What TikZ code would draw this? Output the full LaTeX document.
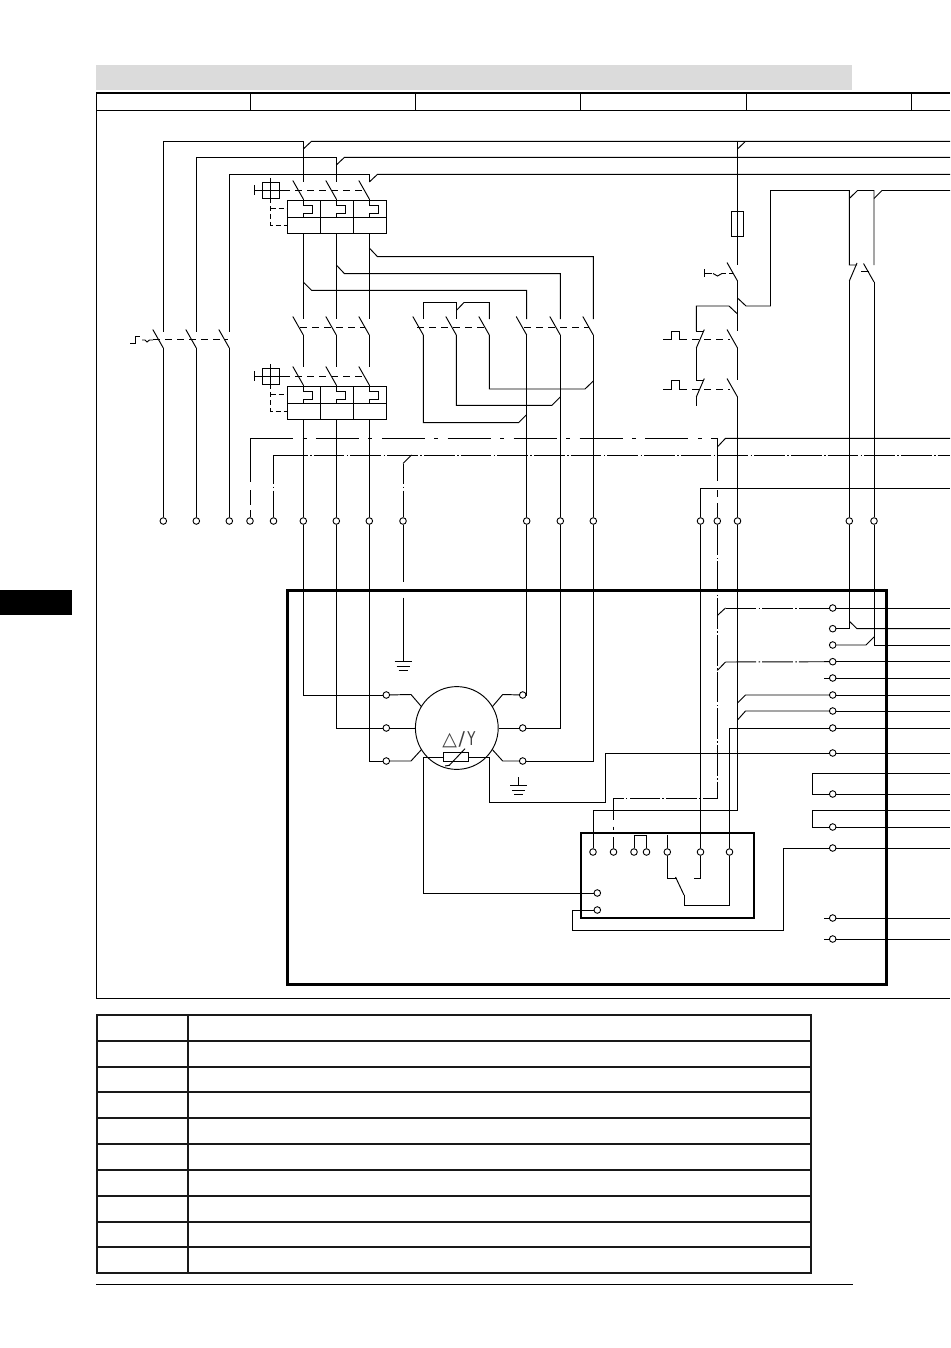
\documentclass[tikz,border=0pt]{standalone}
\usepackage{fontspec}
\usepackage{graphicx}
\newfontfamily\symfont{DejaVu Sans}
\tikzset{
  wire/.style={line width=.95pt},
  frameline/.style={line width=1pt},
  mech/.style={line width=.95pt,dash pattern=on 7pt off 5pt},
  cdd/.style={line width=.95pt,dash pattern=on 43pt off 9.5pt on 4pt off 9.4pt},
  cdf/.style={line width=.95pt,dash pattern=on 30.7pt off 2.5pt on 1.5pt off 2pt},
  term/.style={circle,draw,fill=white,line width=.9pt,inner sep=0pt,minimum size=6.6pt},
  heavy/.style={line width=3pt},
  tablerule/.style={line width=2pt,draw=black!90},
}
% blade: lower end at (x,y), upper end up-left of it
\newcommand\blade[2]{\draw[wire] (#1,#2) ++(-10.5,-18.5) -- (#1,#2);}
% mirrored blade: lower end at (x,y), upper end up-right of it
\newcommand\rblade[2]{\draw[wire] (#1,#2) ++(8,-18.5) -- (#1,#2);}
% handle: square with cross, its line running to x=283
\newcommand\handle[1]{%
  \draw[wire] (262,#1-8) rectangle (279,#1+8);
  \draw[wire] (270.5,#1-12) -- (270.5,#1+12);
  \draw[wire] (254.5,#1) -- (279,#1);
  \draw[wire] (254.5,#1-5) -- (254.5,#1+5);
  \draw[mech] (279,#1) -- (283,#1);
  \draw[mech,dash pattern=on 5pt off 3pt] (270.5,#1+8) -- (270.5,#1+35) -- (287.3,#1+35);
  \draw[mech,dash pattern=on 5pt off 3pt] (270.5,#1+18) -- (287.3,#1+18);
}
% breaker block with three thermal elements
\newcommand\breaker[1]{%
  \draw[wire] (287.3,#1) rectangle (386.3,#1+33);
  \draw[wire] (287.3,#1+17) -- (386.3,#1+17);
  \foreach \bx in {320.3,353.3} \draw[wire] (\bx,#1) -- (\bx,#1+33);
  \foreach \bx in {303.3,336.3,369.3}
    \draw[wire] (\bx,#1-1) -- (\bx,#1+5) -- ++(9,0) -- ++(0,8) -- ++(-9,0) -- (\bx,#1+17);
}
\newcommand\earth[2]{%
  \draw[wire] (#1-8.5,#2) -- (#1+8.5,#2) (#1-6.5,#2+5) -- (#1+6.5,#2+5) (#1-4.5,#2+9.5) -- (#1+4.5,#2+9.5);
}
\begin{document}
\begin{tikzpicture}[x=1pt,y=-1pt]
\useasboundingbox (0,0) rectangle (950,1348);
\fill[white] (0,0) rectangle (950,1348);

% page furniture
\fill[black!14] (96,65) rectangle (852,90);
\fill[black] (0,590) rectangle (72,615);
\draw[line width=1.8pt] (96,93) -- (950,93);
\draw[frameline] (96,110.3) -- (950,110.3);
\draw[frameline] (96.5,92) -- (96.5,998) -- (950,998);
\foreach \hx in {250.3,415.3,580.5,746.3,911.5} \draw[frameline] (\hx,93) -- (\hx,110.3);

% table
\foreach \ry in {1015,1041,1067,1092,1118,1144,1170,1196,1222,1247,1273}
  \draw[tablerule] (96,\ry) -- (812,\ry);
\foreach \cx in {97,188.3,811} \draw[tablerule] (\cx,1014) -- (\cx,1274);
\draw[frameline] (96,1284.3) -- (853,1284.3);

% enclosure and relay box
\draw[heavy] (287.3,590.7) rectangle (886.7,984);
\draw[line width=2pt] (580.7,832.7) rectangle (754,917.7);

% terminals: row at y=521
\foreach \n/\x in {ta/163.3,tb/196.3,tc/229.3,td/250,te/273.5,tf/303.3,tg/336.3,th/369.3,ti/403,
                   tj/526.7,tk/560.3,tl/593.3,tm/700.5,tn/717.3,to/737.5,tp/849.3,tq/874}
  \node[term] (\n) at (\x,521) {};
% terminals: right-hand column
\foreach \n/\y in {r1/608,r2/628.7,r3/645,r4/661.7,r5/678,r6/695,r7/711,r8/728,r9/753,r10/794,r11/827,r12/848,r13/918,r14/939}
  \node[term] (\n) at (832.7,\y) {};
% terminals: motor
\foreach \n/\y in {la/695,lb/728,lc/761} \node[term] (\n) at (386.3,\y) {};
\foreach \n/\y in {ma/695,mb/728,mc/761} \node[term] (\n) at (522.7,\y) {};
% terminals: relay box
\foreach \n/\x in {s1/593,s2/613.5,s3/634,s4/646.5,s5/667.3,s6/700.5,s7/729.5}
  \node[term] (\n) at (\x,852) {};
\node[term] (s8) at (597.3,893) {};
\node[term] (s9) at (597.3,910) {};

% motor and winding protection
\node[circle,draw,wire,inner sep=0pt,minimum size=82.8pt] (motor) at (456.8,728) {};
\node[inner sep=0pt,anchor=base,text=black!75] (msym) at (459,745)
  {\symfont\fontsize{19}{19}\selectfont △\kern1.5pt/\kern2.5pt\scalebox{0.7}[1]{Y}};
\node[draw,wire,inner sep=0pt,minimum width=24.7pt,minimum height=8.6pt] (ptc) at (456.3,757) {};
\draw[wire] (445,766) -- (449.3,765.3) -- (465,748.7);

% fuse
\node[draw,wire,inner sep=0pt,minimum width=12.3pt,minimum height=25.6pt] (fuse) at (737.5,224) {};

%% supply bus
\draw[wire] (ta) -- (163.3,348);
\draw[wire] (tb) -- (196.3,348);
\draw[wire] (tc) -- (229.3,348);
\draw[wire] (163.3,331.5) -- (163.3,141.3) -- (303.3,141.3) -- (303.3,182);
\draw[wire] (196.3,331.5) -- (196.3,157.3) -- (336.3,157.3) -- (336.3,182);
\draw[wire] (229.3,331.5) -- (229.3,174.3) -- (369.3,174.3) -- (369.3,182);
\draw[wire] (303.3,149) -- (311.5,141.3) -- (950,141.3);
\draw[wire] (336.3,165) -- (344.5,157.3) -- (950,157.3);
\draw[wire] (369.3,182) -- (377.5,174.3) -- (950,174.3);
\foreach \sx in {163.3,196.3,229.3} \blade{\sx}{348}
\draw[mech] (153,339) -- (228,339);
\draw[wire] (130,343) -- (135.5,343) -- (135.5,336) -- (139.5,336);
\draw[wire] (142,340) -- (145,340) -- (147,342) -- (149.5,340) -- (153,340);

%% upper breaker
\foreach \sx in {303.3,336.3,369.3} \blade{\sx}{199}
\draw[mech] (283,190) -- (365,190);
\handle{190}
\breaker{200.3}
%% output of upper breaker
\draw[wire] (303.3,233.3) -- (303.3,319);
\draw[wire] (336.3,233.3) -- (336.3,319);
\draw[wire] (369.3,233.3) -- (369.3,319);
\draw[wire] (369.3,248) -- (377.5,256.7) -- (593.3,256.7) -- (593.3,319);
\draw[wire] (336.3,265) -- (344.5,273.7) -- (560.3,273.7) -- (560.3,319);
\draw[wire] (303.3,282) -- (311.5,290.3) -- (526.7,290.3) -- (526.7,319);

%% contactor row
\foreach \sx in {303.3,336.3,369.3,423.3,456.3,489.3,526.7,560.3,593.3} \blade{\sx}{335}
\draw[mech] (300,327) -- (365,327);
\draw[mech] (417,327) -- (484,327);
\draw[mech] (524,327) -- (589,327);
\draw[wire] (303.3,335) -- (303.3,367);
\draw[wire] (336.3,335) -- (336.3,367);
\draw[wire] (369.3,335) -- (369.3,367);

%% star/delta links
\draw[wire] (423.3,319) -- (423.3,302.5) -- (456.3,302.5) -- (456.3,319);
\draw[wire] (456.3,310.5) -- (464,302.5) -- (489.3,302.5) -- (489.3,319);
\draw[wire] (423.3,335) -- (423.3,422.7) -- (518.5,422.7) -- (526.7,414.5);
\draw[wire] (456.3,335) -- (456.3,405.3) -- (552,405.3) -- (560.3,397);
\draw[wire] (489.3,335) -- (489.3,389) -- (585,389) -- (593.3,381);
\draw[wire] (526.7,335) -- (tj);
\draw[wire] (560.3,335) -- (tk);
\draw[wire] (593.3,335) -- (tl);

%% lower breaker
\foreach \sx in {303.3,336.3,369.3} \blade{\sx}{385}
\draw[mech] (283,376) -- (365,376);
\handle{376}
\breaker{386.3}
\draw[wire] (303.3,419.3) -- (tf);
\draw[wire] (336.3,419.3) -- (tg);
\draw[wire] (369.3,419.3) -- (th);

%% motor feeds
\draw[wire] (tf) -- (303.3,695) -- (la);
\draw[wire] (tg) -- (336.3,728) -- (lb);
\draw[wire] (th) -- (369.3,761) -- (lc);
\draw[wire] (la) -- (411,694.5) -- (421.5,706.7);
\draw[wire] (lb) -- (motor);
\draw[wire] (lc) -- (411,761) -- (421.5,749.5);
\draw[wire] (tj) -- (526.7,695) -- (ma);
\draw[wire] (tk) -- (560.3,728) -- (mb);
\draw[wire] (tl) -- (593.3,761) -- (mc);
\draw[wire] (ma) -- (502.7,694.5) -- (492.3,706.7);
\draw[wire] (mb) -- (motor);
\draw[wire] (mc) -- (502.7,761) -- (492.3,749.5);

%% earth
\draw[wire] (ti) -- (403,582);
\draw[wire] (403,597.5) -- (403,661);
\earth{403}{661}
\draw[wire] (518.5,777) -- (518.5,785);
\earth{518.5}{785.3}

%% protective (chain-dotted) conductors
\draw[cdd] (250,438.3) -- (717.3,438.3);
\draw[wire] (250,438.3) -- (250,482) (250,490) -- (250,505) (250,510) -- (td);
\draw[wire] (717.3,447) -- (725.5,438.3) -- (950,438.3);
\draw[wire] (717.3,438.3) -- (717.3,481) (717.3,490) -- (717.3,497) (717.3,503) -- (tn);
\draw[wire] (273.5,455) -- (277,455);
\draw[cdf] (277,455) -- (950,455);
\draw[wire] (273.5,455) -- (273.5,484) (273.5,486.5) -- (273.5,488) (273.5,490.5) -- (te);
\draw[wire] (403,463.5) -- (411.5,455);
\draw[wire] (403,463.5) -- (403,484) (403,486.5) -- (403,488) (403,490.5) -- (ti);
\draw[cdf] (tn) -- (717.3,798) -- (613.5,798);
\draw[wire] (613.5,798) -- (613.5,820) (613.5,826.5) -- (613.5,830) (613.5,837) -- (s2);
\draw[wire] (717.3,615.5) -- (725.5,608);
\draw[wire] (717.3,670.5) -- (725.5,662);
\draw[cdf] (725.5,608) -- (r1);
\draw[cdf] (725.5,662) -- (r4);

%% control column
\draw[wire] (737.5,141.3) -- (737.5,265);
\draw[wire] (737.5,149) -- (745.5,141.3);
\blade{737.5}{281}
\draw[wire] (737.5,281) -- (737.5,331);
\draw[wire] (737.5,298) -- (746,306) -- (770.5,306) -- (770.5,190.5) -- (849.3,190.5) -- (849.3,265) -- (857,265);
\draw[wire] (849.3,198.5) -- (857.5,190.5) -- (874,190.5) -- (874,265);
\draw[wire] (874,198.5) -- (882,190.5) -- (950,190.5);
\draw[wire] (704,269) -- (704,277) (704,273) -- (712,273);
\draw[wire] (713,273.5) -- (717.5,276) -- (722,273.5);
\draw[mech,dash pattern=on 4pt off 3pt] (722,273) -- (733,273);
\blade{737.5}{348}
\blade{737.5}{397}
\draw[wire] (737.5,348) -- (737.5,380);
\draw[wire] (737.5,397) -- (to);
\draw[wire] (696.3,331) -- (696.3,306) -- (729,306) -- (737.5,314);
\draw[wire] (696.3,331) -- (704,331);
\rblade{696.3}{348}
\draw[wire] (696.3,348) -- (696.3,380) -- (704,380);
\rblade{696.3}{397}
\draw[wire] (696.3,397) -- (696.3,405.5);
\draw[mech] (692,339) -- (730,339);
\draw[mech] (692,389) -- (730,389);
\draw[wire] (663,339) -- (671,339) -- (671,331) -- (679,331) -- (679,339) -- (687,339);
\draw[wire] (663,389) -- (671,389) -- (671,380.5) -- (679,380.5) -- (679,389) -- (687,389);

%% auxiliary contacts at the right
\draw[wire] (857,263) -- (849.3,281);
\draw[wire] (849.3,281) -- (tp);
\blade{874}{282}
\draw[wire] (861,271.5) -- (869,271.5);
\draw[wire] (874,282) -- (tq);
\draw[wire] (tm) -- (700.5,488) -- (950,488);

%% lines through the enclosure
\draw[wire] (tp) -- (849.3,628.7) -- (r2);
\draw[wire] (849.8,621.7) -- (857,628.7) -- (950,628.7);
\draw[wire] (tq) -- (874,645) -- (950,645);
\draw[wire] (r3) -- (866,645) -- (874,637);
\draw[wire] (r5) -- (824,678);
\draw[wire] (r1) -- (950,608);
\draw[wire] (r4) -- (950,661.7);
\draw[wire] (r5) -- (950,678);
\draw[wire] (r6) -- (950,695);
\draw[wire] (r7) -- (950,711);
\draw[wire] (r8) -- (950,728);
\draw[wire] (r9) -- (950,753);
\draw[wire] (r10) -- (950,794);
\draw[wire] (r11) -- (950,827);
\draw[wire] (r12) -- (950,848);
\draw[wire] (r13) -- (950,918);
\draw[wire] (r14) -- (950,939);
\draw[wire] (r13) -- (824,918);
\draw[wire] (r14) -- (824,939);
\draw[wire] (r1) -- (824,608);
\draw[wire] (r4) -- (824,661.7);

\draw[wire] (to) -- (737.5,810) -- (593,810) -- (s1);
\draw[wire] (737.5,703) -- (745.5,695) -- (r6);
\draw[wire] (737.5,720) -- (745.5,711) -- (r7);
\draw[wire] (r8) -- (729.5,728) -- (s7);
\draw[wire] (s7) -- (729.5,905) -- (684,905) -- (684,895);
\draw[wire] (684,895) -- (675.5,877);
\draw[wire] (676.5,878) -- (667.3,878) -- (s5);
\draw[wire] (s5) -- (667.3,835);
\draw[wire] (694,878) -- (700.5,878) -- (s6);
\draw[wire] (tm) -- (s6);
\draw[wire] (s3) -- (634,835) -- (646.5,835) -- (s4);

\draw[wire] (r10) -- (812.3,794) -- (812.3,773.3) -- (950,773.3);
\draw[wire] (r11) -- (812.3,827) -- (812.3,810.3) -- (950,810.3);
\draw[wire] (r12) -- (783.3,848) -- (783.3,930) -- (572.3,930) -- (572.3,910) -- (s9);

%% winding protection circuit
\draw[wire] (ptc) -- (423.3,757) -- (423.3,893) -- (s8);
\draw[wire] (ptc) -- (489.3,757) -- (489.3,802.3) -- (605.5,802.3) -- (605.5,753) -- (r9);
\end{tikzpicture}
\end{document}
